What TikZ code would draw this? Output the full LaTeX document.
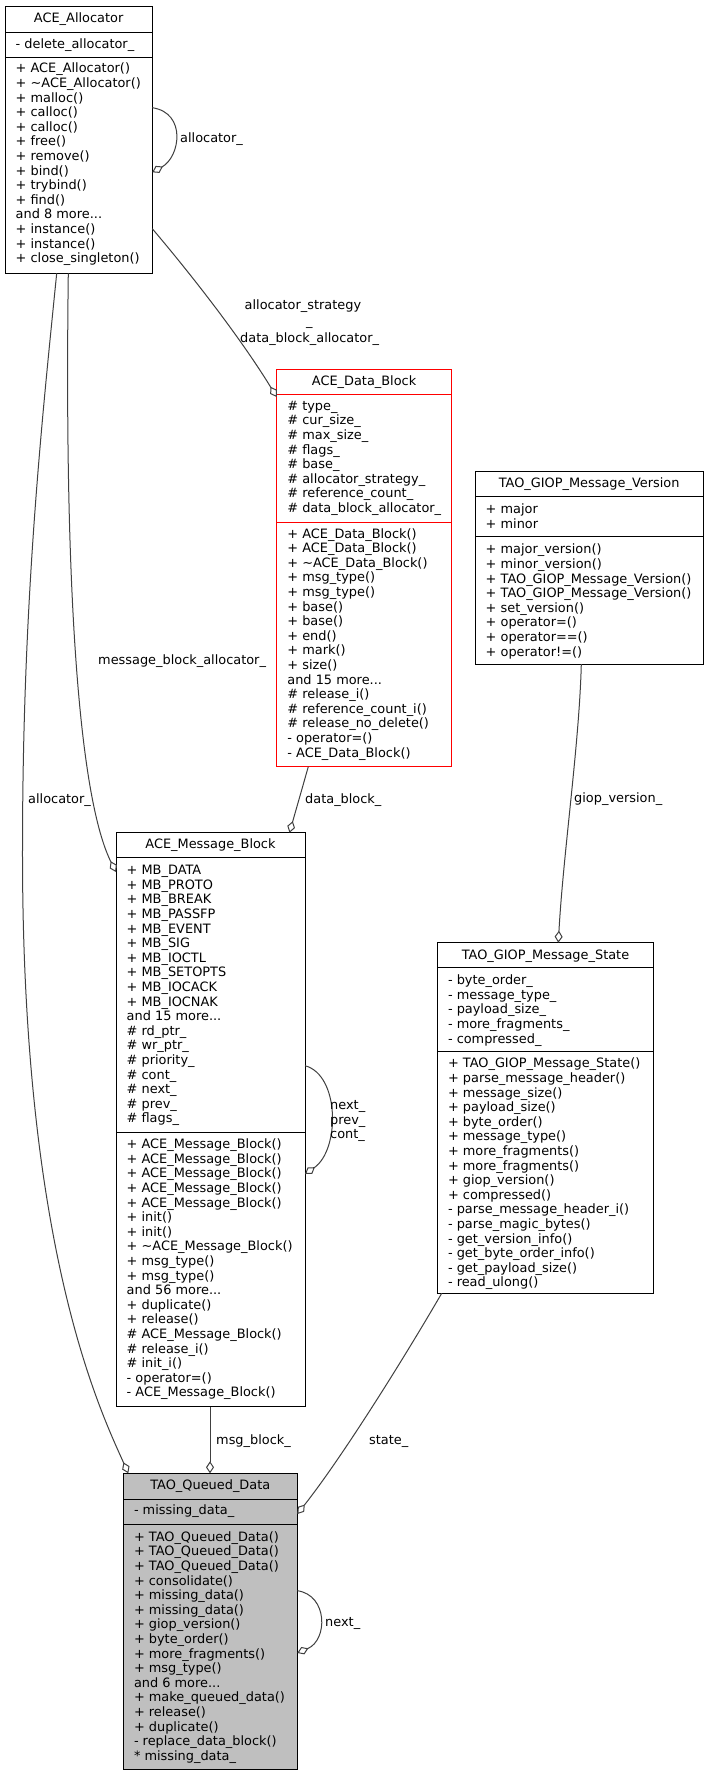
\documentclass[tikz,border=0pt]{standalone}
\usepackage{fontspec}
\setmainfont{DejaVu Sans}
\usetikzlibrary{arrows.meta,calc}
\definecolor{edgegray}{HTML}{404040}
\definecolor{nodegray}{HTML}{BFBFBF}
\newcommand\members[4]{%
  \foreach \mytxt [count=\myi] in {#4}{%
    \node[rowtxt] (#1-\myi) at (#2,{#3+(\myi-1)*14.6}) {\mytxt};}}
\begin{document}
\begin{tikzpicture}[x=1pt,y=-1pt,
  umlbox/.style={draw=black,line width=1pt,inner sep=0pt,outer sep=0pt,anchor=north west,fill=white},
  sepline/.style={draw=black,line width=1pt},
  rowtxt/.style={anchor=base west,inner sep=0pt,font=\fontsize{12.9}{14.6}\selectfont},
  ttl/.style={anchor=base,inner sep=0pt,font=\fontsize{12.9}{14.6}\selectfont},
  assoc/.style={draw=edgegray,line width=1pt,-{Diamond[fill=white,length=12pt,width=8pt]}},
  elabel/.style={anchor=base west,inner sep=0pt,font=\fontsize{12.9}{14.6}\selectfont}]
\fill[white] (0,0) rectangle (708,1776);
\useasboundingbox (0,0) rectangle (708,1776);

% ACE_Allocator
\node[umlbox,minimum width=147.3pt,minimum height=266.6pt] (alloc) at (5,6.7) {};
\draw[sepline] ($(alloc.north west)+(0,25.6)$) -- ($(alloc.north east)+(0,25.6)$);
\draw[sepline] ($(alloc.north west)+(0,50.6)$) -- ($(alloc.north east)+(0,50.6)$);
\node[ttl] (alloc-t) at ($(alloc.north)+(0,16.2)$) {ACE\_Allocator};
\members{alloc-a}{15.5}{48.9}{- delete\_allocator\_}
\members{alloc-m}{15.5}{72.9}{+ ACE\_Allocator(),+ \textasciitilde ACE\_Allocator(),+ malloc(),+ calloc(),+ calloc(),+ free(),+ remove(),+ bind(),+ trybind(),+ find(),{and 8 more.{}.{}.},+ instance(),+ instance(),+ close\_singleton()}

% ACE_Data_Block
\node[umlbox,draw=red,minimum width=174.8pt,minimum height=397.7pt] (datablock) at (276.7,369) {};
\draw[sepline,draw=red] ($(datablock.north west)+(0,25)$) -- ($(datablock.north east)+(0,25)$);
\draw[sepline,draw=red] ($(datablock.north west)+(0,153.3)$) -- ($(datablock.north east)+(0,153.3)$);
\node[ttl] (datablock-t) at ($(datablock.north)+(0,16.3)$) {ACE\_Data\_Block};
\members{datablock-a}{287.2}{410.3}{\# type\_,\# cur\_size\_,\# max\_size\_,\# flags\_,\# base\_,\# allocator\_strategy\_,\# reference\_count\_,\# data\_block\_allocator\_}
\members{datablock-m}{287.2}{538}{+ ACE\_Data\_Block(),+ ACE\_Data\_Block(),+ \textasciitilde ACE\_Data\_Block(),+ msg\_type(),+ msg\_type(),+ base(),+ base(),+ end(),+ mark(),+ size(),{and 15 more.{}.{}.},\# release\_i(),\# reference\_count\_i(),\# release\_no\_delete(),- operator=(),- ACE\_Data\_Block()}

% TAO_GIOP_Message_Version
\node[umlbox,minimum width=228.3pt,minimum height=192.3pt] (version) at (475,471.7) {};
\draw[sepline] ($(version.north west)+(0,25)$) -- ($(version.north east)+(0,25)$);
\draw[sepline] ($(version.north west)+(0,64.3)$) -- ($(version.north east)+(0,64.3)$);
\node[ttl] (version-t) at ($(version.north)+(0,16.2)$) {TAO\_GIOP\_Message\_Version};
\members{version-a}{485.5}{513.6}{+ major,+ minor}
\members{version-m}{485.5}{553.9}{+ major\_version(),+ minor\_version(),+ TAO\_GIOP\_Message\_Version(),+ TAO\_GIOP\_Message\_Version(),+ set\_version(),+ operator=(),+ operator==(),+ operator!=()}

% ACE_Message_Block
\node[umlbox,minimum width=189pt,minimum height=574pt] (msgblock) at (116,832.7) {};
\draw[sepline] ($(msgblock.north west)+(0,25)$) -- ($(msgblock.north east)+(0,25)$);
\draw[sepline] ($(msgblock.north west)+(0,300)$) -- ($(msgblock.north east)+(0,300)$);
\node[ttl] (msgblock-t) at ($(msgblock.north)+(0,15.9)$) {ACE\_Message\_Block};
\members{msgblock-a}{126.5}{874.6}{+ MB\_DATA,+ MB\_PROTO,+ MB\_BREAK,+ MB\_PASSFP,+ MB\_EVENT,+ MB\_SIG,+ MB\_IOCTL,+ MB\_SETOPTS,+ MB\_IOCACK,+ MB\_IOCNAK,{and 15 more.{}.{}.},\# rd\_ptr\_,\# wr\_ptr\_,\# priority\_,\# cont\_,\# next\_,\# prev\_,\# flags\_}
\members{msgblock-m}{126.5}{1148.6}{+ ACE\_Message\_Block(),+ ACE\_Message\_Block(),+ ACE\_Message\_Block(),+ ACE\_Message\_Block(),+ ACE\_Message\_Block(),+ init(),+ init(),+ \textasciitilde ACE\_Message\_Block(),+ msg\_type(),+ msg\_type(),{and 56 more.{}.{}.},+ duplicate(),+ release(),\# ACE\_Message\_Block(),\# release\_i(),\# init\_i(),- operator=(),- ACE\_Message\_Block()}

% TAO_GIOP_Message_State
\node[umlbox,minimum width=216.4pt,minimum height=350.6pt] (state) at (437.3,942.7) {};
\draw[sepline] ($(state.north west)+(0,25)$) -- ($(state.north east)+(0,25)$);
\draw[sepline] ($(state.north west)+(0,109)$) -- ($(state.north east)+(0,109)$);
\node[ttl] (state-t) at ($(state.north)+(0,16.9)$) {TAO\_GIOP\_Message\_State};
\members{state-a}{447.8}{984.6}{- byte\_order\_,- message\_type\_,- payload\_size\_,- more\_fragments\_,- compressed\_}
\members{state-m}{447.8}{1067.9}{+ TAO\_GIOP\_Message\_State(),+ parse\_message\_header(),+ message\_size(),+ payload\_size(),+ byte\_order(),+ message\_type(),+ more\_fragments(),+ more\_fragments(),+ giop\_version(),+ compressed(),- parse\_message\_header\_i(),- parse\_magic\_bytes(),- get\_version\_info(),- get\_byte\_order\_info(),- get\_payload\_size(),- read\_ulong()}

% TAO_Queued_Data
\node[umlbox,fill=nodegray,minimum width=174pt,minimum height=296pt] (queued) at (123.3,1473.3) {};
\draw[sepline] ($(queued.north west)+(0,25.7)$) -- ($(queued.north east)+(0,25.7)$);
\draw[sepline] ($(queued.north west)+(0,50.7)$) -- ($(queued.north east)+(0,50.7)$);
\node[ttl] (queued-t) at ($(queued.north)+(0,16.3)$) {TAO\_Queued\_Data};
\members{queued-a}{133.8}{1514.6}{- missing\_data\_}
\members{queued-m}{133.8}{1541.3}{+ TAO\_Queued\_Data(),+ TAO\_Queued\_Data(),+ TAO\_Queued\_Data(),+ consolidate(),+ missing\_data(),+ missing\_data(),+ giop\_version(),+ byte\_order(),+ more\_fragments(),+ msg\_type(),{and 6 more.{}.{}.},+ make\_queued\_data(),+ release(),+ duplicate(),- replace\_data\_block(),* missing\_data\_}

% connectors
\draw[assoc] ($(alloc.north east)+(0,101)$) .. controls +(34.7,5.3) and +(27.7,-15.3) .. ($(alloc.north east)+(0,165.6)$);
\draw[assoc] ($(alloc.north east)+(0,222)$) .. controls +(47.7,56.3) and +(-31.7,-52) .. ($(datablock.north west)+(0,28)$);
\draw[assoc] ($(alloc.south west)+(63.3,0)$) .. controls +(-4.3,326.7) and +(-36,-72) .. ($(msgblock.north west)+(0,39.3)$);
\draw[assoc] ($(alloc.south west)+(51.7,0)$) .. controls +(-14.7,146.7) and (22.5,600) .. (22.5,850) .. controls (22,1250) and (100,1410) .. ($(queued.north west)+(5,0)$);
\draw[assoc] ($(datablock.south west)+(31.6,0)$) -- ($(msgblock.north east)+(-15.5,0)$);
\draw[assoc] ($(version.south west)+(106.3,0)$) .. controls +(-2,80) and +(5,-90) .. ($(state.north west)+(121,0)$);
\draw[assoc] ($(msgblock.north east)+(0,233)$) .. controls +(35,9.3) and +(35,-24) .. ($(msgblock.north east)+(0,341.3)$);
\draw[assoc] ($(msgblock.south west)+(94,0)$) -- ($(queued.north west)+(86.7,0)$);
\draw[assoc] ($(state.south west)+(4.4,0)$) .. controls +(-41.7,71.7) and +(42.7,-54) .. ($(queued.north east)+(0,40.7)$);
\draw[assoc] ($(queued.north east)+(0,117.4)$) .. controls +(30.7,4.3) and +(30.7,-13) .. ($(queued.north east)+(0,179.7)$);

% connector labels
\node[elabel] (l-allocself) at (180,142.6) {allocator\_};
\node[elabel] (l-as1) at (244.5,309.6) {allocator\_strategy};
\node[elabel] (l-as2) at (305.8,326) {\_};
\node[elabel] (l-as3) at (240,342.6) {data\_block\_allocator\_};
\node[elabel] (l-mba) at (98,664.6) {message\_block\_allocator\_};
\node[elabel] (l-alloc) at (28,803.6) {allocator\_};
\node[elabel] (l-db) at (305,803.6) {data\_block\_};
\node[elabel] (l-gv) at (574,802.6) {giop\_version\_};
\node[elabel] (l-npc1) at (330,1109.6) {next\_};
\node[elabel] (l-npc2) at (330,1124.2) {prev\_};
\node[elabel] (l-npc3) at (330,1138.8) {cont\_};
\node[elabel] (l-mb) at (216,1444.6) {msg\_block\_};
\node[elabel] (l-st) at (369,1444.6) {state\_};
\node[elabel] (l-nx) at (325,1626.3) {next\_};
\end{tikzpicture}
\end{document}
